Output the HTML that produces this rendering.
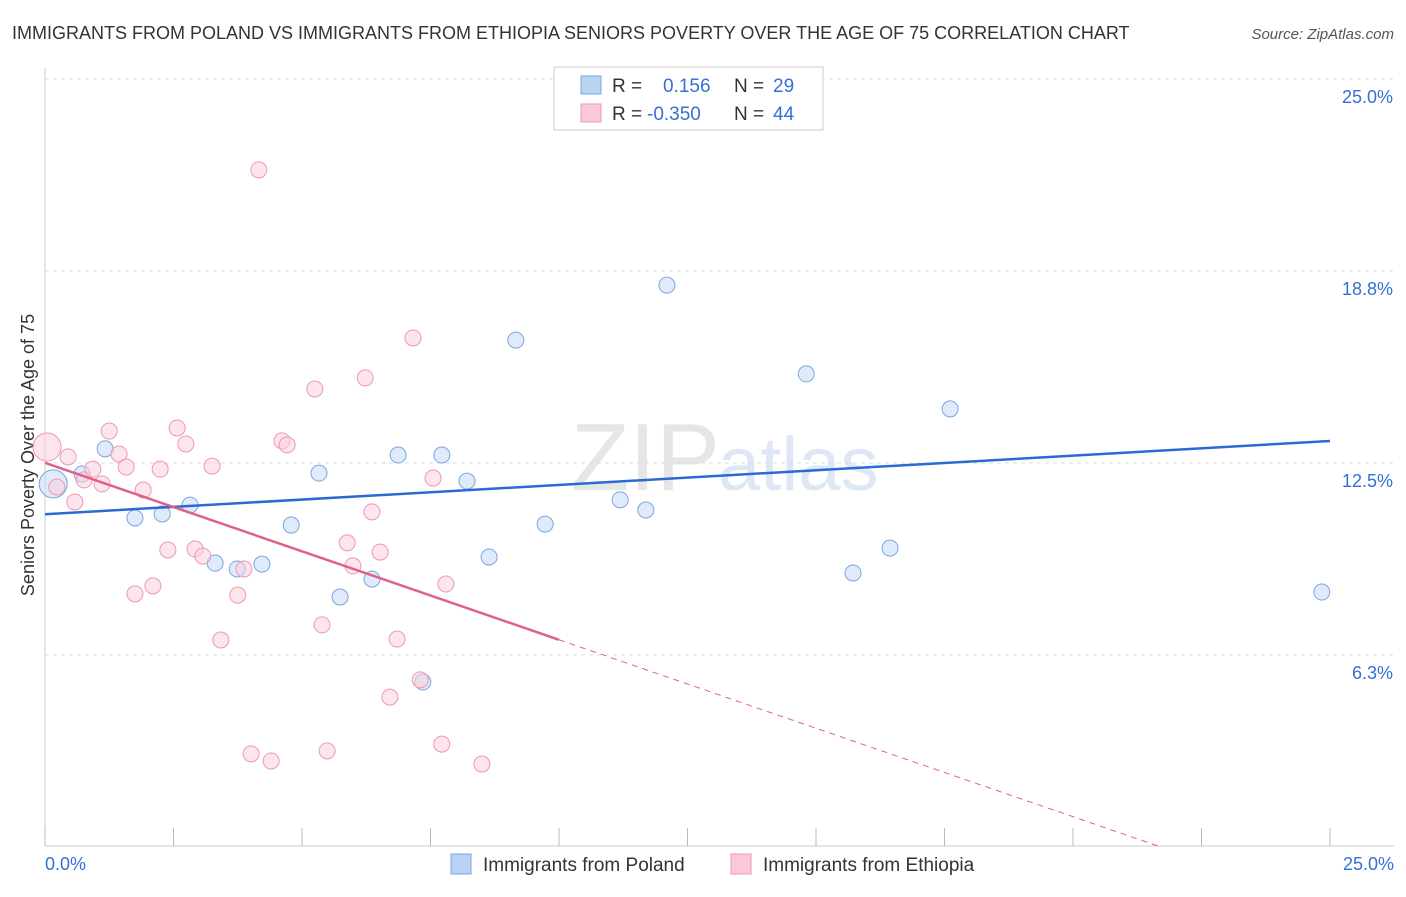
<!DOCTYPE html>
<html><head><meta charset="utf-8"><style>
body{margin:0;background:#fff;font-family:"Liberation Sans",sans-serif;}
svg text{font-family:"Liberation Sans",sans-serif;}
</style></head><body>
<svg id="c" width="1406" height="892">
<text x="12" y="39" font-size="18" fill="#333">IMMIGRANTS FROM POLAND VS IMMIGRANTS FROM ETHIOPIA SENIORS POVERTY OVER THE AGE OF 75 CORRELATION CHART</text>
<text x="1394" y="39" font-size="15" fill="#555" font-style="italic" text-anchor="end">Source: ZipAtlas.com</text>
<text x="720" y="490" font-size="96" fill="#e6e6e6" text-anchor="end" font-family="Liberation Serif">ZIP</text>
<text x="718" y="490" font-size="76" fill="#dde7f5">atlas</text>
<text x="34" y="455" font-size="18" fill="#333" text-anchor="middle" transform="rotate(-90 34 455)">Seniors Poverty Over the Age of 75</text>
<g id="grid"></g><g id="marks"></g>
<g>
<rect x="554" y="67" width="269" height="63" fill="#fff" stroke="#ccc"/>
<rect x="581" y="76" width="20" height="18" fill="#b8d4f5" stroke="#7aa6e0"/>
<rect x="581" y="104" width="20" height="18" fill="#fac8d8" stroke="#ee97b4"/>
<text x="612" y="92" font-size="19" fill="#333">R =</text><text x="663" y="92" font-size="19" fill="#3570d4">0.156</text>
<text x="734" y="92" font-size="19" fill="#333">N =</text><text x="773" y="92" font-size="19" fill="#3570d4">29</text>
<text x="612" y="120" font-size="19" fill="#333">R =</text><text x="647" y="120" font-size="19" fill="#3570d4">-0.350</text>
<text x="734" y="120" font-size="19" fill="#333">N =</text><text x="773" y="120" font-size="19" fill="#3570d4">44</text>
</g>
<g>
<rect x="451" y="854" width="20" height="20" fill="#b8d4f5" stroke="#7aa6e0"/>
<text x="483" y="871" font-size="19" fill="#333">Immigrants from Poland</text>
<rect x="731" y="854" width="20" height="20" fill="#fac8d8" stroke="#ee97b4"/>
<text x="763" y="871" font-size="19" fill="#333">Immigrants from Ethiopia</text>
</g>
</svg>
<script>
const xTicks=[0,2.5,5,7.5,10,12.5,15,17.5,20,22.5,25];
const yTicks=[6.25,12.5,18.75,25];
const yTickLabels=["6.3%","12.5%","18.8%","25.0%"];
const polandX=[0.16,0.72,1.17,1.75,2.28,2.82,3.31,3.74,4.22,4.79,5.33,5.74,6.36,6.87,7.35,7.72,8.21,8.64,9.16,9.73,11.19,11.69,12.10,12.98,14.81,15.72,16.44,17.61,24.84];
const polandY=[11.82,12.14,12.96,10.71,10.84,11.13,9.24,9.05,9.21,10.48,12.17,8.14,8.72,12.76,5.37,12.76,11.91,9.44,16.50,10.51,11.30,10.97,18.29,23.76,15.40,8.92,9.73,14.26,8.30];
const ethX=[0.04,0.23,0.45,0.58,0.76,0.93,1.11,1.25,1.44,1.58,1.75,1.91,2.10,2.24,2.39,2.57,2.74,2.92,3.07,3.25,3.42,3.75,3.87,4.01,4.16,4.40,4.61,4.71,5.25,5.39,5.49,5.88,5.99,6.23,6.36,6.52,6.71,6.85,7.16,7.30,7.55,7.72,7.80,8.50];
const ethY=[13.02,11.72,12.70,11.23,11.95,12.30,11.82,13.54,12.79,12.37,8.24,11.62,8.50,12.30,9.67,13.64,13.12,9.70,9.47,12.40,6.74,8.20,9.05,3.03,22.04,2.80,13.22,13.09,14.91,7.23,3.13,9.90,9.15,15.27,10.91,9.60,4.88,6.77,16.57,5.44,12.01,3.35,8.56,2.70];
const X=v=>45+v/25*1285, Y=v=>847-v/25*768;
const NS="http://www.w3.org/2000/svg";
function mk(t,a,p){const e=document.createElementNS(NS,t);for(const k in a)e.setAttribute(k,a[k]);p.appendChild(e);return e;}
const g=document.getElementById('grid'),m=document.getElementById('marks');
yTicks.forEach((v,i)=>{
 const l=mk('line',{x1:45,x2:1394,y1:Y(v),y2:Y(v),stroke:'#ddd','stroke-dasharray':'4,4'},g);
 
 
 const t=mk('text',{x:1393,y:Y(v)+24,'font-size':18,fill:'#3570d4','text-anchor':'end'},g);t.textContent=yTickLabels[i];
 
 
});
mk('line',{x1:45,x2:45,y1:68,y2:846,stroke:'#ccc'},g);
mk('line',{x1:45,x2:1394,y1:846,y2:846,stroke:'#ccc'},g);
xTicks.forEach(v=>{const l=mk('line',{x1:X(v),x2:X(v),y1:828,y2:846,stroke:'#bbb'},g);
 
 });
let t=mk('text',{x:45,y:870,'font-size':18,fill:'#3570d4'},g);t.textContent='0.0%';


t=mk('text',{x:1394,y:870,'font-size':18,fill:'#3570d4','text-anchor':'end'},g);t.textContent='25.0%';


function fit(xs,ys){const n=xs.length,mx=xs.reduce((a,b)=>a+b)/n,my=ys.reduce((a,b)=>a+b)/n;let sxy=0,sxx=0;xs.forEach((x,i)=>{sxy+=(x-mx)*(ys[i]-my);sxx+=(x-mx)**2});const b=sxy/sxx;return [my-b*mx,b];}
function pts(xs,ys,fill,stroke,name){xs.forEach((x,i)=>{const r=(i==0)?14:8;const c=mk('circle',{cx:X(x),cy:Y(ys[i]),r:r,fill:fill,'fill-opacity':0.55,stroke:stroke,'stroke-width':1},m);
 
 });}
pts(polandX,polandY,'#c5dbf6','#7aa6e0','poland-point');
pts(ethX,ethY,'#fbd0de','#ee97b4','ethiopia-point');
let [a,b]=fit(polandX,polandY);
let l=mk('line',{x1:X(0),y1:Y(a),x2:X(25),y2:Y(a+b*25),stroke:'#2a6ad4','stroke-width':2.5},m);


[a,b]=fit(ethX,ethY);
l=mk('line',{x1:X(0),y1:Y(a),x2:X(10),y2:Y(a+b*10),stroke:'#e0608a','stroke-width':2.5},m);


const xe=Math.min(25,-a/b);
l=mk('line',{x1:X(10),y1:Y(a+b*10),x2:X(xe),y2:Y(a+b*xe),stroke:'#e0608a','stroke-width':1,'stroke-dasharray':'6,5'},m);


</script>
</body></html>
